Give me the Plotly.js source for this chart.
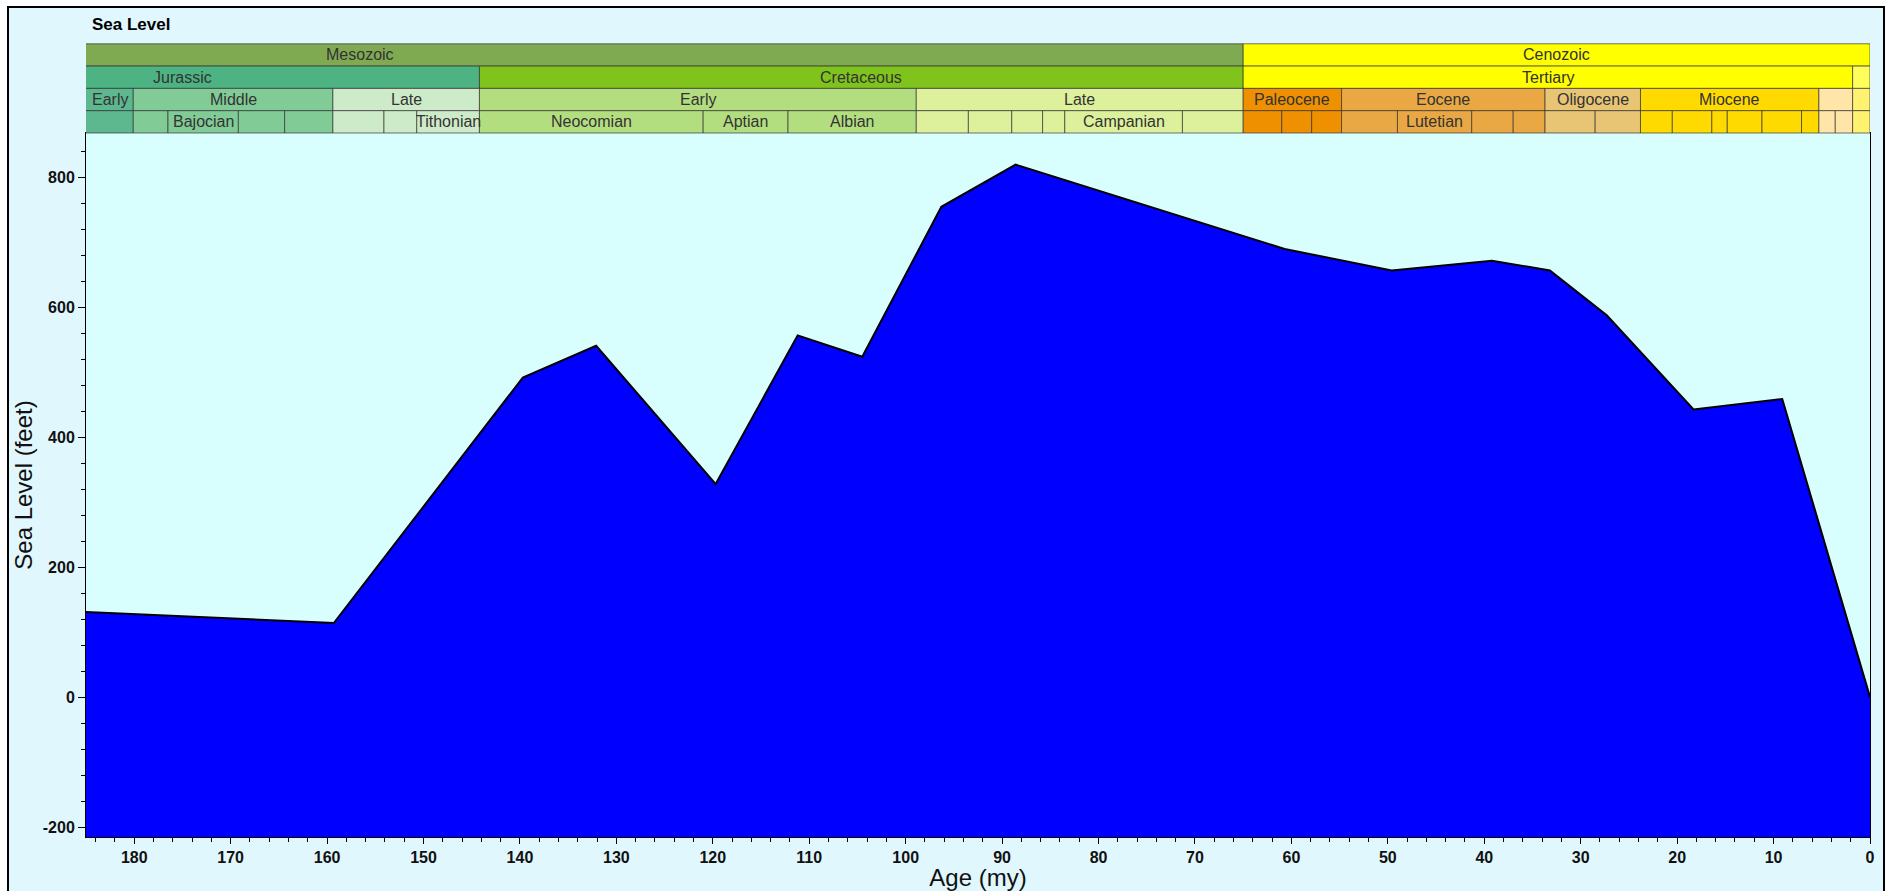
<!DOCTYPE html>
<html><head><meta charset="utf-8">
<script src="https://cdn.plot.ly/plotly-3.0.1.min.js"></script>
<style>
html,body{margin:0;padding:0;background:#fff;}
#frame{position:absolute;left:7px;top:6px;width:1874px;height:900px;border:2px solid #000;border-bottom:none;background:#E1F7FE;}
#chart{position:absolute;left:0;top:0;width:1890px;height:891px;}
</style></head><body>
<div id="frame"></div><div id="chart"></div>
<script>
// ---- data: sea level curve (age in Ma, sea level in feet) ----
const ages     = [185, 159.3, 139.7, 132.1, 119.7, 111.2, 104.5, 96.3, 88.6, 60.7, 49.6, 39.2, 33.2, 27.3, 18.3, 9.1, 0];
const seaLevel = [131, 114,   492,   541,   328,   557,   524,   755,  820,  690,  657,  672,  657,  588,  443,  459, 0];

// y-axis tick labels (feet)
const yTickVals = [-200, 0, 200, 400, 600, 800];

// ---- time scale units (Ma) ----
const eraNames  = ['Mesozoic', 'Cenozoic'];
const eraStart  = [248.2, 65.0];
const eraEnd    = [65.0, 0];
const eraColors = ['#7FAA52', '#FFFF00'];

const periodNames  = ['Jurassic', 'Cretaceous', 'Tertiary', 'Quaternary'];
const periodStart  = [205.7, 144.2, 65.0, 1.8];
const periodEnd    = [144.2, 65.0, 1.8, 0];
const periodColors = ['#4DB382', '#7FC31C', '#FFFF00', '#FFFF5C'];

const epochNames  = ['Early', 'Middle', 'Late', 'Early', 'Late', 'Paleocene', 'Eocene', 'Oligocene', 'Miocene', 'Pliocene', 'Pleistocene'];
const epochStart  = [205.7, 180.1, 159.4, 144.2, 98.9, 65.0, 54.8, 33.7, 23.8, 5.3, 1.8];
const epochEnd    = [180.1, 159.4, 144.2, 98.9, 65.0, 54.8, 33.7, 23.8, 5.3, 1.8, 0];
const epochColors = ['#5DB890', '#80CB96', '#CDEBC8', '#B3DE80', '#DDF09B', '#EE9000', '#E9A843', '#E8C475', '#FFDA00', '#FFE6A8', '#FFF270'];

const stageNames = ['Toarcian', 'Aalenian', 'Bajocian', 'Bathonian', 'Callovian', 'Oxfordian', 'Kimmeridgian', 'Tithonian',
  'Neocomian', 'Aptian', 'Albian', 'Cenomanian', 'Turonian', 'Coniacian', 'Santonian', 'Campanian', 'Maastrichtian',
  'Danian', 'Selandian', 'Thanetian', 'Ypresian', 'Lutetian', 'Bartonian', 'Priabonian', 'Rupelian', 'Chattian',
  'Aquitanian', 'Burdigalian', 'Langhian', 'Serravallian', 'Tortonian', 'Messinian', 'Zanclean', 'Piacenzian', 'Pleistocene'];
const stageStart = [189.6, 180.1, 176.5, 169.2, 164.4, 159.4, 154.1, 150.7,
  144.2, 121.0, 112.2, 98.9, 93.5, 89.0, 85.8, 83.5, 71.3,
  65.0, 61.0, 57.9, 54.8, 49.0, 41.3, 37.0, 33.7, 28.5,
  23.8, 20.5, 16.4, 14.8, 11.2, 7.1, 5.3, 3.6, 1.8];
const stageEnd = [180.1, 176.5, 169.2, 164.4, 159.4, 154.1, 150.7, 144.2,
  121.0, 112.2, 98.9, 93.5, 89.0, 85.8, 83.5, 71.3, 65.0,
  61.0, 57.9, 54.8, 49.0, 41.3, 37.0, 33.7, 28.5, 23.8,
  20.5, 16.4, 14.8, 11.2, 7.1, 5.3, 3.6, 1.8, 0];

// ---- layout constants ----
const W = 1890, H = 891;
const plotLeft = 86, plotRight = 1870, plotTop = 132.7, plotBottom = 836.7;
const plotW = plotRight - plotLeft, plotH = plotBottom - plotTop;
const xRange = [185, 0];
const yRange = [-215.4, 868.6];
const rowTopPx = [43.5, 65.8, 88.1, 110.4];
const rowH = 22.3;
const FONT = 'Liberation Sans, Arial, sans-serif';
const labelFont = {family: FONT, size: 16, color: '#333'};

const canvas = document.createElement('canvas');
const ctx = canvas.getContext('2d');
ctx.font = '16px "Liberation Sans", Arial, sans-serif';
const pxPerMa = plotW / (xRange[0] - xRange[1]);

function pyPaper(px) { return (plotBottom - px) / plotH; }

const shapes = [];
const annotations = [];

function addRow(names, starts, ends, colors, row) {
  const y0 = pyPaper(rowTopPx[row] + rowH), y1 = pyPaper(rowTopPx[row]);
  for (let i = 0; i < names.length; i++) {
    shapes.push({type: 'rect', xref: 'x', yref: 'paper', x0: starts[i], x1: ends[i], y0: y0, y1: y1,
      fillcolor: colors[i], line: {color: 'rgba(45,45,45,0.65)', width: 1}, layer: 'above'});
    const visS = Math.min(starts[i], xRange[0]), visE = Math.max(ends[i], xRange[1]);
    let cx = (starts[i] + ends[i]) / 2;
    if (cx > xRange[0] || cx < xRange[1]) cx = (visS + visE) / 2;
    const visWidth = (visS - visE) * pxPerMa;
    const tw = ctx.measureText(names[i]).width;
    if (tw <= visWidth + 4) {
      annotations.push({xref: 'x', yref: 'paper', x: cx, y: (y0 + y1) / 2, text: names[i], showarrow: false,
        font: labelFont, xanchor: 'center', yanchor: 'middle'});
    }
  }
}

function epochColorAt(mid) {
  for (let i = 0; i < epochNames.length; i++) if (mid <= epochStart[i] && mid >= epochEnd[i]) return epochColors[i];
  return '#ccc';
}
const stageColors = stageNames.map((n, i) => epochColorAt((stageStart[i] + stageEnd[i]) / 2));

addRow(eraNames, eraStart, eraEnd, eraColors, 0);
addRow(periodNames, periodStart, periodEnd, periodColors, 1);
addRow(epochNames, epochStart, epochEnd, epochColors, 2);
addRow(stageNames, stageStart, stageEnd, stageColors, 3);

const fillTrace = {
  x: ages.concat([ages[ages.length - 1], ages[0]]),
  y: seaLevel.concat([yRange[0], yRange[0]]),
  type: 'scatter', mode: 'lines', fill: 'toself', fillcolor: '#0000FF',
  line: {width: 0, color: '#0000FF'}, hoverinfo: 'skip', showlegend: false
};
const lineTrace = {
  x: ages, y: seaLevel, type: 'scatter', mode: 'lines', name: 'Sea Level',
  line: {color: '#000', width: 2}, showlegend: false
};

const layout = {
  width: W, height: H,
  margin: {l: plotLeft, r: W - plotRight, t: plotTop, b: H - plotBottom, pad: 0},
  paper_bgcolor: 'rgba(0,0,0,0)',
  plot_bgcolor: '#D8FEFE',
  showlegend: false,
  title: {text: '<b>Sea Level</b>', font: {family: FONT, size: 17, color: '#000'},
    xref: 'container', x: 92 / W, xanchor: 'left', yref: 'container', y: 1 - 24 / H, yanchor: 'middle'},
  xaxis: {
    range: xRange, dtick: 10, tick0: 0, ticks: 'outside', ticklen: 6, tickcolor: '#000',
    minor: {dtick: 2, tick0: 0, ticks: 'outside', ticklen: 4, tickcolor: '#000'},
    showline: true, linecolor: '#000', linewidth: 1, mirror: true,
    showgrid: false, zeroline: false, automargin: false,
    tickfont: {family: FONT, size: 16, weight: 'bold', color: '#111'},
    title: {text: 'Age (my)', font: {family: FONT, size: 24, color: '#111'}, standoff: 4}
  },
  yaxis: {
    range: yRange, tickmode: 'array', tickvals: yTickVals, ticktext: yTickVals.map(String),
    ticks: 'outside', ticklen: 7, tickcolor: '#000',
    minor: {tickmode: 'linear', tick0: 0, dtick: 40, ticks: 'outside', ticklen: 4, tickcolor: '#000'},
    showline: true, linecolor: '#000', linewidth: 1, mirror: true,
    showgrid: false, zeroline: false, automargin: false,
    tickfont: {family: FONT, size: 16, weight: 'bold', color: '#111'},
    title: {text: 'Sea Level (feet)', font: {family: FONT, size: 24, color: '#111'}, standoff: 3}
  },
  shapes: shapes,
  annotations: annotations
};

Plotly.newPlot('chart', [fillTrace, lineTrace], layout, {staticPlot: true, displayModeBar: false});
</script>
</body></html>
